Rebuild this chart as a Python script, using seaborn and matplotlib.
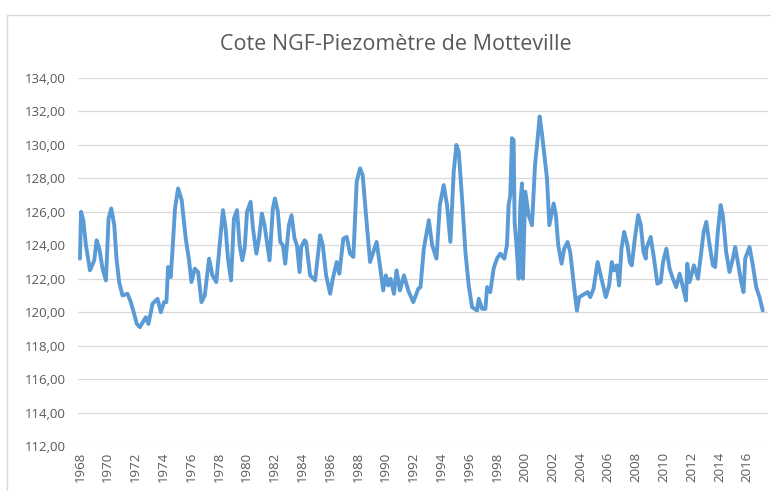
import matplotlib
matplotlib.use("Agg")
import matplotlib.pyplot as plt
import seaborn as sns
import pandas as pd
from matplotlib.patches import Rectangle

# ---- data ----
years = [
    1968.00, 1968.08, 1968.24, 1968.43, 1968.72, 1969.03, 1969.20, 1969.39, 1969.63, 1969.87,
    1970.06, 1970.25, 1970.47, 1970.63, 1970.82, 1971.06, 1971.42, 1971.66, 1971.90, 1972.09,
    1972.31, 1972.74, 1972.93, 1973.22, 1973.58, 1973.82, 1974.05, 1974.22, 1974.34, 1974.53,
    1974.65, 1974.84, 1975.06, 1975.32, 1975.61, 1975.85, 1976.02, 1976.26, 1976.50, 1976.74,
    1976.98, 1977.29, 1977.53, 1977.81, 1978.05, 1978.29, 1978.48, 1978.65, 1978.87, 1979.08,
    1979.30, 1979.49, 1979.68, 1979.85, 1980.02, 1980.28, 1980.45, 1980.69, 1980.88, 1981.09,
    1981.28, 1981.64, 1981.88, 1982.03, 1982.24, 1982.41, 1982.60, 1982.77, 1983.03, 1983.22,
    1983.44, 1983.61, 1983.80, 1983.92, 1984.16, 1984.27, 1984.56, 1984.92, 1985.28, 1985.47,
    1985.71, 1986.00, 1986.19, 1986.47, 1986.66, 1986.95, 1987.19, 1987.43, 1987.67, 1987.91,
    1988.15, 1988.34, 1988.58, 1988.87, 1989.11, 1989.34, 1989.58, 1989.82, 1990.01, 1990.18,
    1990.35, 1990.59, 1990.78, 1991.02, 1991.31, 1991.62, 1991.98, 1992.34, 1992.50, 1992.74,
    1993.10, 1993.34, 1993.65, 1993.89, 1994.17, 1994.41, 1994.65, 1994.89, 1995.08, 1995.25,
    1995.49, 1995.73, 1995.97, 1996.21, 1996.57, 1996.69, 1996.93, 1997.17, 1997.29, 1997.52,
    1997.76, 1998.00, 1998.24, 1998.53, 1998.72, 1998.84, 1998.96, 1999.08, 1999.20, 1999.27,
    1999.39, 1999.56, 1999.68, 1999.80, 1999.87, 2000.04, 2000.28, 2000.52, 2000.74, 2000.93,
    2001.07, 2001.22, 2001.41, 2001.60, 2001.77, 2001.89, 2002.08, 2002.24, 2002.41, 2002.65,
    2002.84, 2003.08, 2003.27, 2003.51, 2003.75, 2003.92, 2004.52, 2004.71, 2004.95, 2005.24,
    2005.52, 2005.83, 2006.07, 2006.26, 2006.43, 2006.62, 2006.79, 2006.96, 2007.15, 2007.39,
    2007.56, 2007.70, 2007.92, 2008.16, 2008.35, 2008.54, 2008.71, 2008.75, 2009.06, 2009.30,
    2009.54, 2009.78, 2009.95, 2010.19, 2010.42, 2010.66, 2010.90, 2011.14, 2011.38, 2011.60,
    2011.69, 2011.86, 2012.17, 2012.46, 2012.70, 2012.87, 2013.06, 2013.30, 2013.54, 2013.70,
    2013.89, 2014.09, 2014.25, 2014.49, 2014.73, 2014.97, 2015.14, 2015.33, 2015.57, 2015.74,
    2015.86, 2016.17, 2016.41, 2016.65, 2016.89, 2017.12,
]
levels = [
    123.2, 126.0, 125.5, 124.0, 122.5, 123.1, 124.3, 123.8, 122.6, 121.9,
    125.6, 126.2, 125.2, 123.2, 121.8, 121.0, 121.1, 120.6, 119.9, 119.3,
    119.1, 119.7, 119.3, 120.5, 120.8, 120.0, 120.6, 120.6, 122.7, 122.1,
    123.6, 126.2, 127.4, 126.7, 124.4, 123.1, 121.8, 122.6, 122.4, 120.6,
    121.0, 123.2, 122.2, 121.8, 124.0, 126.1, 125.0, 123.2, 121.9, 125.6,
    126.1, 124.0, 123.1, 123.8, 126.0, 126.6, 125.0, 123.5, 124.4, 125.9,
    125.2, 123.1, 126.2, 126.8, 126.0, 124.2, 124.0, 122.9, 125.2, 125.8,
    124.4, 124.0, 122.4, 123.9, 124.3, 124.2, 122.2, 121.9, 124.6, 124.0,
    122.2, 121.1, 122.0, 123.0, 122.3, 124.4, 124.5, 123.5, 123.3, 127.8,
    128.6, 128.2, 125.8, 123.0, 123.6, 124.2, 122.8, 121.3, 122.2, 121.6,
    122.0, 121.1, 122.5, 121.3, 122.2, 121.3, 120.6, 121.4, 121.5, 123.8,
    125.5, 124.0, 123.2, 126.4, 127.6, 126.4, 124.2, 128.4, 130.0, 129.6,
    126.8, 123.6, 121.6, 120.3, 120.1, 120.8, 120.2, 120.2, 121.5, 121.2,
    122.6, 123.2, 123.5, 123.2, 124.0, 126.4, 127.0, 130.4, 130.3, 125.4,
    124.2, 122.0, 126.4, 127.7, 122.0, 127.2, 125.8, 125.2, 128.8, 130.4,
    131.7, 130.8, 129.4, 128.0, 125.2, 125.7, 126.5, 125.8, 124.0, 122.9,
    123.8, 124.2, 123.6, 121.8, 120.1, 120.9, 121.2, 120.9, 121.4, 123.0,
    122.0, 120.9, 121.6, 123.0, 122.5, 122.8, 121.6, 123.8, 124.8, 124.0,
    123.0, 122.8, 124.4, 125.8, 125.2, 123.6, 123.2, 123.8, 124.5, 123.2,
    121.7, 121.8, 123.0, 123.8, 122.6, 122.0, 121.5, 122.3, 121.5, 120.7,
    122.9, 121.8, 122.8, 122.0, 123.6, 124.8, 125.4, 124.0, 122.8, 122.7,
    124.8, 126.4, 125.8, 123.6, 122.4, 123.2, 123.9, 123.0, 121.8, 121.2,
    123.2, 123.9, 122.8, 121.5, 120.9, 120.1,
]
x_ticks = list(range(1968, 2017, 2))
y_ticks = list(range(112, 135, 2))
title = "Cote NGF-Piezomètre de Motteville"

df = pd.DataFrame({"year": years, "level": levels})

sns.set_theme(style="white")
plt.rcParams["font.family"] = ["Open Sans", "DejaVu Sans"]

W, H = 771, 491
fig = plt.figure(figsize=(W / 100, H / 100), dpi=100)
ax = fig.add_axes([78 / W, 1 - 446 / H, (768 - 78) / W, (446 - 78) / H])

# chart-area border
fig.patches.append(Rectangle((7 / W, -0.05), 1.2, 1 - 15 / H + 0.05,
                             transform=fig.transFigure, fill=False,
                             edgecolor="#D9D9D9", linewidth=1.0))

sns.lineplot(data=df, x="year", y="level", ax=ax, color="#5B9BD5",
             linewidth=2.8, estimator=None, sort=False)

ax.set_xlim(1967.86, 2017.5)
ax.set_ylim(112, 134)
ax.set_yticks(y_ticks)
ax.set_yticklabels([f"{v:.2f}".replace(".", ",") for v in y_ticks])
ax.set_xticks(x_ticks)
ax.set_xticklabels([str(v) for v in x_ticks], rotation=90)
ax.tick_params(axis="y", length=0, pad=9, labelsize=9.5, labelcolor="#595959")
ax.tick_params(axis="x", length=0, pad=4, labelsize=9.5, labelcolor="#595959")
ax.grid(axis="y", color="#D9D9D9", linewidth=0.9)
ax.grid(axis="x", visible=False)
ax.set_axisbelow(True)
for s in ax.spines.values():
    s.set_visible(False)
ax.set_xlabel("")
ax.set_ylabel("")

fig.text(0.514, 1 - 45 / H, title, ha="center", va="center",
         fontsize=15.5, color="#595959")

fig.savefig("out.png", dpi=100)
